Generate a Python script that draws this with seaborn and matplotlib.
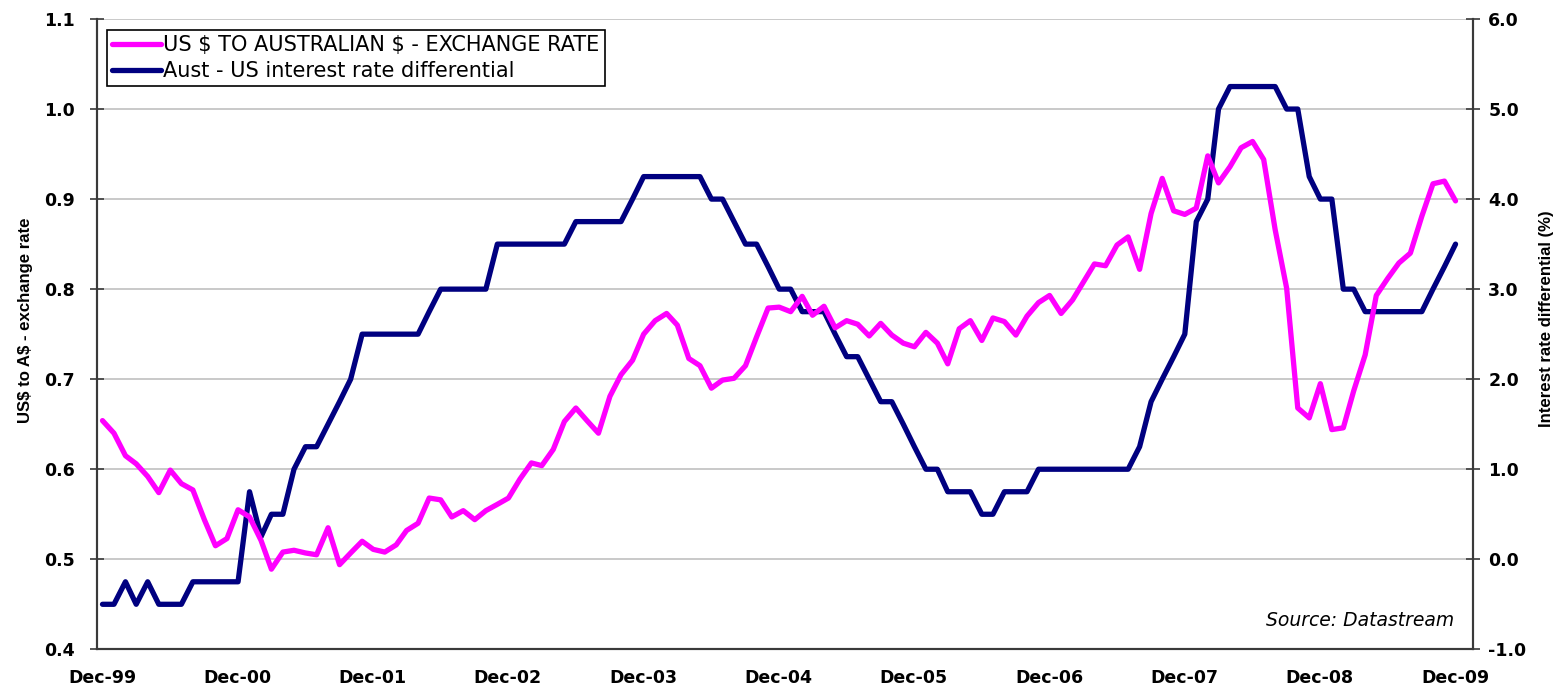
import numpy as np
import pandas as pd
import matplotlib
matplotlib.use("Agg")
import matplotlib.pyplot as plt
from matplotlib.transforms import ScaledTranslation
import seaborn as sns

# ---- data (monthly, Dec-1999 .. Dec-2009) ----
start_month = "1999-12-01"
n_months = 121

exchange_rate = [
    0.654, 0.640, 0.615, 0.606, 0.592, 0.574, 0.599, 0.584, 0.577, 0.544,
    0.515, 0.523, 0.555, 0.547, 0.521, 0.489, 0.508, 0.510, 0.507, 0.505,
    0.535, 0.494, 0.507, 0.520, 0.511, 0.508, 0.516, 0.532, 0.540, 0.568,
    0.566, 0.547, 0.554, 0.544, 0.554, 0.561, 0.568, 0.589, 0.607, 0.604,
    0.622, 0.653, 0.668, 0.654, 0.640, 0.681, 0.705, 0.721, 0.750, 0.765,
    0.773, 0.760, 0.723, 0.715, 0.690, 0.699, 0.701, 0.715, 0.747, 0.779,
    0.780, 0.775, 0.792, 0.771, 0.781, 0.757, 0.765, 0.761, 0.748, 0.762,
    0.749, 0.740, 0.736, 0.752, 0.740, 0.717, 0.756, 0.765, 0.743, 0.768,
    0.764, 0.749, 0.770, 0.785, 0.793, 0.773, 0.788, 0.807, 0.828, 0.826,
    0.849, 0.858, 0.822, 0.884, 0.923, 0.887, 0.883, 0.890, 0.948, 0.918,
    0.936, 0.957, 0.964, 0.944, 0.866, 0.801, 0.668, 0.657, 0.695, 0.644,
    0.646, 0.687, 0.727, 0.793, 0.812, 0.829, 0.840, 0.881, 0.917, 0.920,
    0.898,
]

rate_differential = [
    -0.50, -0.50, -0.25, -0.50, -0.25, -0.50, -0.50, -0.50, -0.25, -0.25,
    -0.25, -0.25, -0.25, 0.75, 0.25, 0.50, 0.50, 1.00, 1.25, 1.25,
    1.50, 1.75, 2.00, 2.50, 2.50, 2.50, 2.50, 2.50, 2.50, 2.75,
    3.00, 3.00, 3.00, 3.00, 3.00, 3.50, 3.50, 3.50, 3.50, 3.50,
    3.50, 3.50, 3.75, 3.75, 3.75, 3.75, 3.75, 4.00, 4.25, 4.25,
    4.25, 4.25, 4.25, 4.25, 4.00, 4.00, 3.75, 3.50, 3.50, 3.25,
    3.00, 3.00, 2.75, 2.75, 2.75, 2.50, 2.25, 2.25, 2.00, 1.75,
    1.75, 1.50, 1.25, 1.00, 1.00, 0.75, 0.75, 0.75, 0.50, 0.50,
    0.75, 0.75, 0.75, 1.00, 1.00, 1.00, 1.00, 1.00, 1.00, 1.00,
    1.00, 1.00, 1.25, 1.75, 2.00, 2.25, 2.50, 3.75, 4.00, 5.00,
    5.25, 5.25, 5.25, 5.25, 5.25, 5.00, 5.00, 4.25, 4.00, 4.00,
    3.00, 3.00, 2.75, 2.75, 2.75, 2.75, 2.75, 2.75, 3.00, 3.25,
    3.50,
]

series_names = ["US $ TO AUSTRALIAN $ - EXCHANGE RATE",
                "Aust - US interest rate differential"]
left_ticks = [0.4, 0.5, 0.6, 0.7, 0.8, 0.9, 1.0, 1.1]
right_ticks = [-1.0, 0.0, 1.0, 2.0, 3.0, 4.0, 5.0, 6.0]
x_tick_years = list(range(1999, 2010))
x_tick_labels = ["Dec-%02d" % (y % 100) for y in x_tick_years]
left_label = "US$ to A$ - exchange rate"
right_label = "Interest rate differential (%)"
source_text = "Source: Datastream"

# ---- build frame ----
dates = pd.date_range(start_month, periods=n_months, freq="MS") + pd.Timedelta(days=15)
df = pd.DataFrame({"date": dates, "fx": exchange_rate, "diff": rate_differential})

sns.set_style("white")
plt.rcParams["font.family"] = ["DejaVu Sans"]
plt.rcParams["text.color"] = "black"
plt.rcParams["axes.labelcolor"] = "black"
try:
    plt.rcParams["text.parse_math"] = False
except KeyError:
    pass

PINK = "#FF00FF"
NAVY = "#000080"
AXC = "#3a3a3a"
ARIAL = ["Liberation Sans", "DejaVu Sans"]

fig = plt.figure(figsize=(15.61, 6.89), dpi=100)
ax = fig.add_axes([0.0621, 0.0576, 0.8815, 0.9148])
ax2 = ax.twinx()

sns.lineplot(data=df, x="date", y="fx", ax=ax, color=PINK, linewidth=3.8,
             label=series_names[0], legend=False)
sns.lineplot(data=df, x="date", y="diff", ax=ax2, color=NAVY, linewidth=3.8,
             label=series_names[1], legend=False)

ax.set_zorder(ax2.get_zorder() + 1)
ax.patch.set_visible(False)

ax.set_ylim(0.4, 1.1)
ax2.set_ylim(-1.0, 6.0)
ax.set_yticks(left_ticks)
ax.set_yticklabels(["%.1f" % v for v in left_ticks])
ax2.set_yticks(right_ticks)
ax2.set_yticklabels(["%.1f" % v for v in right_ticks])

ax.set_xlim(pd.Timestamp("1999-12-01"), pd.Timestamp("2010-02-01"))
tick_dates = [pd.Timestamp(f"{y}-12-01") for y in x_tick_years]
ax.set_xticks(tick_dates)
ax.set_xticklabels(x_tick_labels)

# grid (one line per right-axis tick, which coincides with left ticks)
ax2.grid(False)
ax.grid(False)
for v in right_ticks:
    ax2.axhline(v, color="#C0C0C0", linewidth=1.2, zorder=0)

# spines
for a in (ax, ax2):
    a.spines["top"].set_visible(False)
    for s in ("left", "right", "bottom"):
        a.spines[s].set_color(AXC)
        a.spines[s].set_linewidth(1.5)

ax.tick_params(axis="x", direction="inout", length=10, width=1.2, color=AXC,
               labelcolor="black", labelsize=12.5, pad=9)
ax.tick_params(axis="y", direction="inout", length=10, width=1.2, color=AXC,
               labelcolor="black", labelsize=12.5, pad=11)
ax2.tick_params(axis="y", direction="inout", length=10, width=1.2, color=AXC,
                labelcolor="black", labelsize=12.5, pad=6)
ax2.tick_params(axis="x", length=0)
for lab in ax.get_xticklabels() + ax.get_yticklabels() + ax2.get_yticklabels():
    lab.set_fontweight("bold")
shift = ScaledTranslation(5 / 100, 0, fig.dpi_scale_trans)
for lab in ax.get_xticklabels():
    lab.set_transform(lab.get_transform() + shift)

ax.set_xlabel("")
ax.set_ylabel(left_label, fontsize=12.1, fontweight="bold", family=ARIAL,
              color="black")
ax2.set_ylabel(right_label, fontsize=12.1, fontweight="bold", family=ARIAL,
               color="black")
ax.yaxis.set_label_coords(-0.0465, 0.5225)
ax2.yaxis.set_label_coords(1.0480, 0.5248)

# legend
h1, l1 = ax.get_legend_handles_labels()
h2, l2 = ax2.get_legend_handles_labels()
leg = ax.legend(h1 + h2, l1 + l2, loc="upper left", bbox_to_anchor=(0.0073, 0.983),
                frameon=True, fancybox=False, framealpha=1, edgecolor="black",
                fontsize=15, handlelength=2.35, handletextpad=0.1,
                borderpad=0.25, labelspacing=0.3, borderaxespad=0,
                labelcolor="black")
leg.get_frame().set_linewidth(1.2)

ax.text(0.9865, 0.03, source_text, transform=ax.transAxes,
        ha="right", va="bottom", fontsize=13.5, fontstyle="italic", color="black")

fig.savefig("out.png", dpi=100)
